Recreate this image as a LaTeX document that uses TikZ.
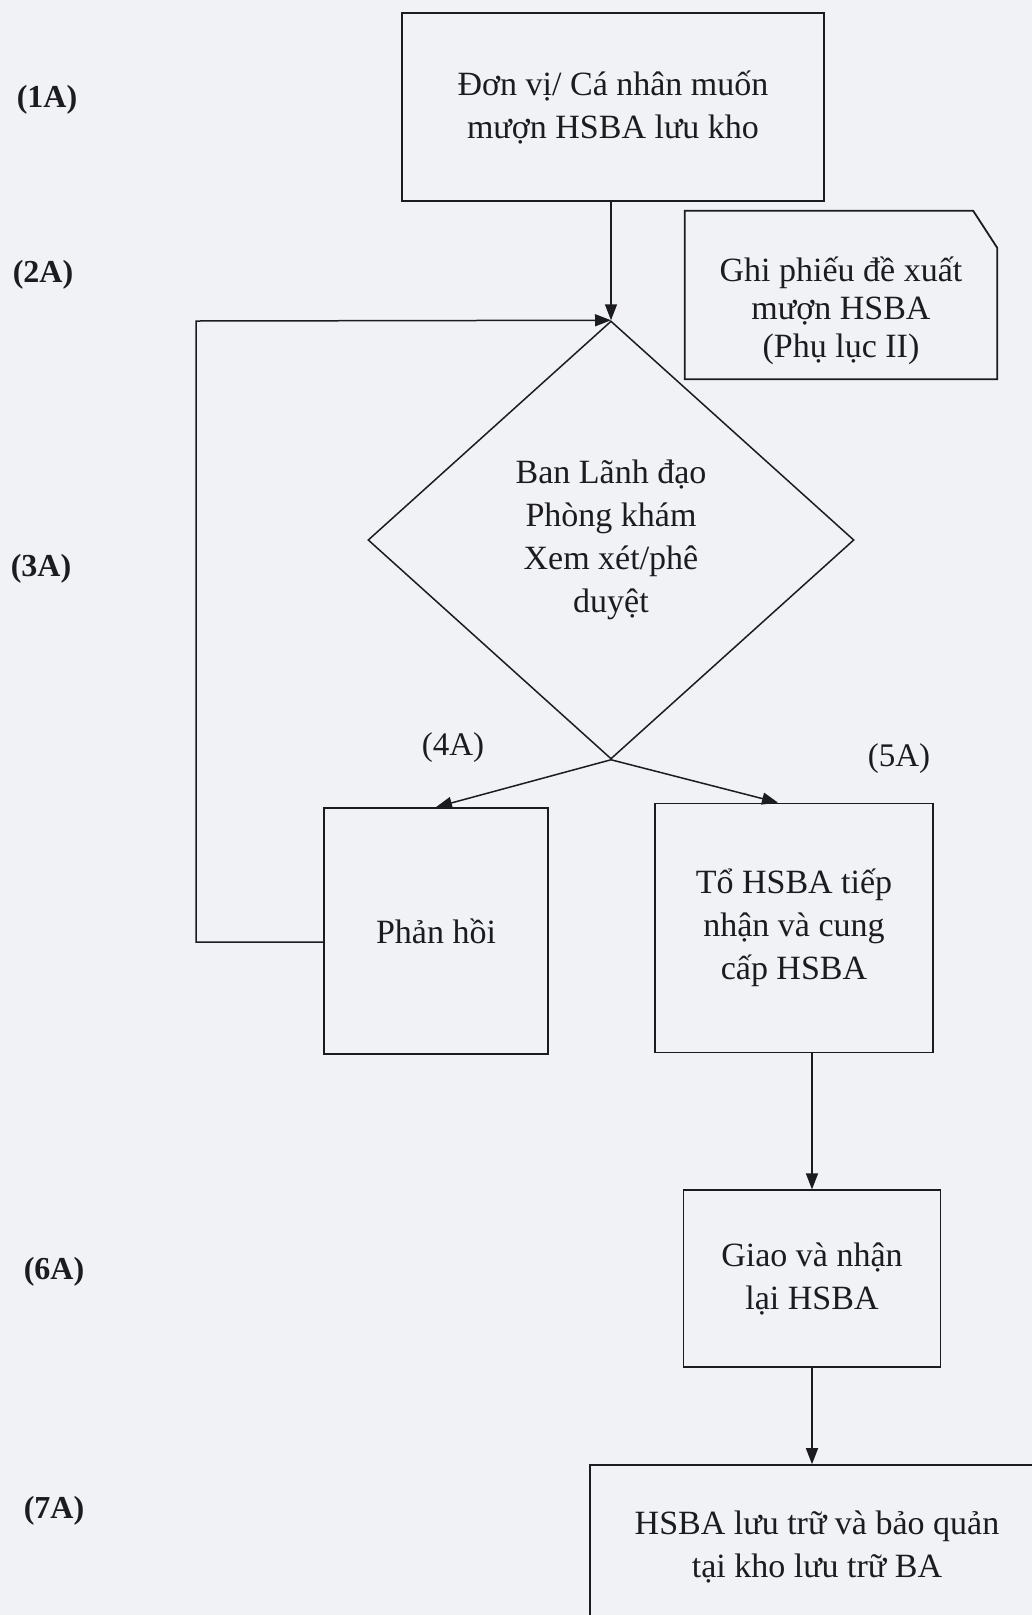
\documentclass[tikz,border=0pt]{standalone}
\usepackage{fontspec}
\setmainfont{Liberation Serif}
\usetikzlibrary{arrows.meta,positioning,shapes.geometric}
\definecolor{scanbg}{RGB}{241,242,245}
\definecolor{ink}{RGB}{28,28,32}

\begin{document}
\begin{tikzpicture}[
  x=1pt, y=-1pt,
  font=\fontsize{34}{43}\selectfont,
  box/.style={draw=ink, line width=1.8pt, align=center, inner sep=0pt, text=ink},
  decision/.style={draw=ink, diamond, line width=1.5pt, align=center, inner sep=0pt, text=ink},
  steplabel/.style={font=\fontsize{32}{38}\selectfont\bfseries, text=ink},
  branchlabel/.style={font=\fontsize{33}{38}\selectfont, text=ink},
  arrow/.style={-{Triangle[length=16pt,width=12pt]}, line width=1.5pt, draw=ink},
  node distance=136pt
]
\fill[scanbg] (0,0) rectangle (1032,1615);
\useasboundingbox (0,0) rectangle (1032,1615);
\clip (0,0) rectangle (1032,1615);

% main flow
\node[box, minimum width=422pt, minimum height=188pt] (request) at (613,107) {Đơn vị/ Cá nhân muốn\\mượn HSBA lưu kho};
\node[align=center, inner sep=0pt, minimum width=312pt, minimum height=168pt, text=ink,
      font=\fontsize{34}{38}\selectfont] (slip) at (841,311) {Ghi phiếu đề xuất\\mượn HSBA\\(Phụ lục II)};
\draw[ink, line width=1.8pt] ([yshift=16pt]slip.north west) -- ([xshift=-24pt,yshift=16pt]slip.north east)
  -- ([yshift=-21pt]slip.north east) -- ([yshift=16pt]slip.south east) -- ([yshift=16pt]slip.south west) -- cycle;
\node[decision, minimum width=486pt, minimum height=438pt] (review) at (611,540) {Ban Lãnh đạo\\Phòng khám\\Xem xét/phê\\duyệt};
\node[box, minimum width=224pt, minimum height=246pt] (reply) at (436,931) {Phản hồi};
\node[box, minimum width=278pt, minimum height=249pt] (supply) at (794,928) {Tổ HSBA tiếp\\nhận và cung\\cấp HSBA};
\node[box, minimum width=257pt, minimum height=177pt, below=of supply, xshift=18pt] (handover) {Giao và nhận\\lại HSBA};
\node[box, minimum width=454pt, minimum height=164pt, below=96pt of handover, xshift=5pt] (store) {HSBA lưu trữ và bảo quản\\tại kho lưu trữ BA};

% step labels
\node[steplabel] (lab1) at (47,100) {(1A)};
\node[steplabel] (lab2) at (43,275) {(2A)};
\node[steplabel] (lab3) at (41,569) {(3A)};
\node[branchlabel] (lab4) at (453,748) {(4A)};
\node[branchlabel] (lab5) at (899,759) {(5A)};
\node[steplabel] (lab6) at (54,1272) {(6A)};
\node[steplabel] (lab7) at (54,1511) {(7A)};

% connectors
\coordinate (loopcorner) at (196,321);
\draw[arrow] (request.south -| review.north) -- (review.north);
\draw[arrow] ([yshift=-11pt]reply.west) -| (loopcorner) -- (review.north);
\draw[arrow] (review.south) -- (reply.north);
\draw[arrow] (review.south) -- ([xshift=-16pt]supply.north);
\draw[arrow] (supply.south -| handover.north) -- (handover.north);
\draw[arrow] (handover.south) -- (handover.south |- store.north);
\end{tikzpicture}
\end{document}
